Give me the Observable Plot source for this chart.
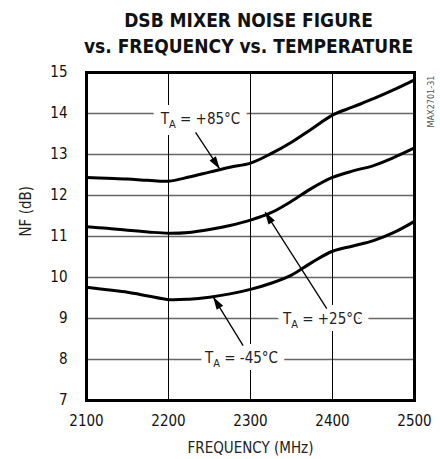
<!DOCTYPE html>
<html><head><meta charset="utf-8">
<script src="https://cdn.jsdelivr.net/npm/d3@7"></script>
<script src="https://cdn.jsdelivr.net/npm/@observablehq/plot@0.6"></script>
<style>body{margin:0;background:#fff}</style>
</head><body><div id="chart"></div>
<script>
const titleLines = ["DSB MIXER NOISE FIGURE", "vs. FREQUENCY vs. TEMPERATURE"];
const xLabel = "FREQUENCY (MHz)";
const yLabel = "NF (dB)";
const partNo = "MAX2701-31";
const freq  = [2100,2125,2150,2175,2200,2225,2250,2275,2300,2325,2350,2375,2400,2425,2450,2475,2500];
const nf85  = [12.44,12.42,12.40,12.37,12.35,12.45,12.57,12.69,12.79,13.02,13.30,13.63,13.96,14.16,14.36,14.58,14.82];
const nf25  = [11.24,11.20,11.15,11.11,11.08,11.10,11.17,11.27,11.40,11.58,11.86,12.18,12.44,12.60,12.73,12.93,13.16];
const nfM45 = [9.76,9.70,9.64,9.55,9.46,9.47,9.52,9.60,9.71,9.86,10.06,10.37,10.64,10.77,10.90,11.10,11.37];
const xTicks = [2100,2200,2300,2400,2500];
const yTicks = [7,8,9,10,11,12,13,14,15];
const xGrid = [2200,2300,2400];
const yGrid = [8,9,10,11,12,13,14];
const labelText = ["TA = +85°C","TA = +25°C","TA = -45°C"];
const labelX = [2239, 2388, 2289];
const labelY = [13.85, 8.98, 8.02];
const arrowFromX = [2233, 2393, 2291];
const arrowFromY = [13.54, 9.24, 8.34];
const arrowToX = [2262, 2318, 2255];
const arrowToY = [12.66, 11.59, 9.51];

const FONT = "'DejaVu Sans Condensed','DejaVu Sans',sans-serif";
const series = [nf85, nf25, nfM45].flatMap((s, k) => s.map((v, i) => ({k, x: freq[i], y: v})));
const labels = labelText.map((t, i) => ({t, x: labelX[i], y: labelY[i]}));
const arrows = arrowFromX.map((_, i) => ({x1: arrowFromX[i], y1: arrowFromY[i], x2: arrowToX[i], y2: arrowToY[i]}));
const fmt = d3.format("d");

const svg = Plot.plot({
  width: 440, height: 459,
  marginLeft: 86, marginRight: 26, marginTop: 72, marginBottom: 59,
  style: {fontFamily: FONT, fontSize: "15px", color: "#111", background: "#fff"},
  x: {domain: [2100, 2500], label: null},
  y: {domain: [7, 15], label: null},
  marks: [
    Plot.ruleY(yGrid, {stroke: "#666", strokeWidth: 1.3}),
    Plot.ruleX(xGrid, {stroke: "#000", strokeWidth: 1}),
    // white halo that breaks the grid lines behind the labels
    Plot.text(labels, {x: "x", y: "y", text: "t", fontSize: 15, fill: "white", stroke: "white", strokeWidth: 14, strokeLinejoin: "round"}),
    Plot.text(labels, {x: "x", y: "y", text: "t", fontSize: 15, fill: "#222"}),
    Plot.line(series, {x: "x", y: "y", z: "k", curve: "catmull-rom", stroke: "#000", strokeWidth: 3}),
    Plot.link(arrows, {x1: "x1", y1: "y1", x2: "x2", y2: "y2", stroke: "#000", strokeWidth: 1.3}),
    Plot.frame({stroke: "#000", strokeWidth: 3}),
    Plot.axisX(xTicks, {tickSize: 0, tickPadding: 15, fontSize: 15, tickFormat: fmt, label: null}),
    Plot.axisY(yTicks, {tickSize: 0, tickPadding: 19, fontSize: 15, tickFormat: fmt, label: null}),
    Plot.text([titleLines[0]], {frameAnchor: "top", lineAnchor: "middle", dy: -52, dx: -2, fontWeight: "bold", fontSize: 19, fill: "#111"}),
    Plot.text([titleLines[1]], {frameAnchor: "top", lineAnchor: "middle", dy: -26, dx: -2, fontWeight: "bold", fontSize: 19, fill: "#111"}),
    Plot.text([xLabel], {frameAnchor: "bottom", lineAnchor: "middle", dy: 48, fontSize: 15, fill: "#222"}),
    Plot.text([yLabel], {frameAnchor: "left", lineAnchor: "middle", dx: -60, rotate: -90, fontSize: 15, fill: "#222"}),
    Plot.text([partNo], {frameAnchor: "top-right", lineAnchor: "middle", dx: 17, dy: 3, rotate: -90, textAnchor: "end", fontSize: 9, fill: "#555"})
  ]
});

// filled arrowheads
const s = d3.select(svg);
const defs = s.append("defs");
defs.append("marker").attr("id", "ahead").attr("viewBox", "-14 -7 16 14")
  .attr("markerWidth", 16).attr("markerHeight", 14).attr("refX", 0).attr("refY", 0)
  .attr("markerUnits", "userSpaceOnUse").attr("orient", "auto")
  .append("path").attr("d", "M1,0L-12,-3.8L-12,3.8Z").attr("fill", "#000");
s.selectAll("g[aria-label=link] path").attr("marker-end", "url(#ahead)");

// subscript A in labels
s.selectAll("text").each(function () {
  const t = this.textContent;
  if (t.startsWith("TA ")) {
    const el = d3.select(this);
    el.text(null);
    el.append("tspan").text("T");
    el.append("tspan").attr("dy", 4).attr("font-size", "11px").text("A");
    el.append("tspan").attr("dy", -4).text(t.slice(2));
  }
});

document.getElementById("chart").append(svg);
</script>
</body></html>
